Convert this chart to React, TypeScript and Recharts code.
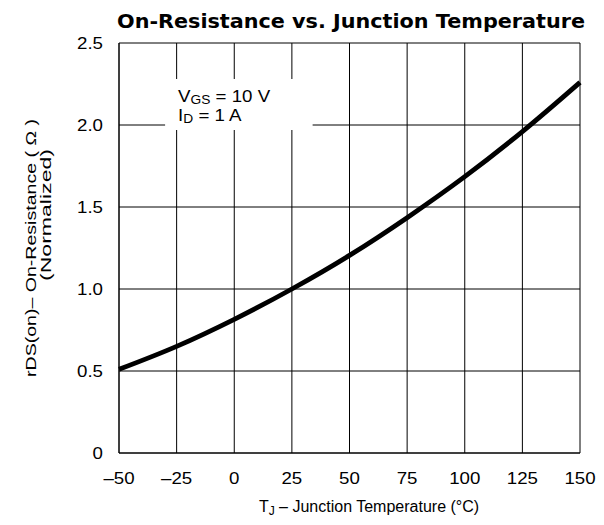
import React from "react";
import {
  LineChart,
  Line,
  XAxis,
  YAxis,
  CartesianGrid,
  ReferenceArea,
} from "recharts";

const temperatures = [-50, -25, 0, 25, 50, 75, 100, 125, 150];
const resistance = [0.51, 0.65, 0.815, 1.0, 1.205, 1.435, 1.685, 1.96, 2.26];
const xTicks = [-50, -25, 0, 25, 50, 75, 100, 125, 150];
const yTicks = [0, 0.5, 1.0, 1.5, 2.0, 2.5];

const data = temperatures.map((t, i) => ({ t, r: resistance[i] }));

const FONT = "'Liberation Sans', Arial, Helvetica, sans-serif";
const SX = 1.1;

const fmtX = (v: number) => (v < 0 ? "\u2013" + Math.abs(v) : String(v));
const fmtY = (v: number) => (v === 0 ? "0" : v.toFixed(1));

const XTick = (props: any) => {
  const { x, y, payload } = props;
  return (
    <g transform={`translate(${x},${y}) scale(${SX},1)`}>
      <text x={0} y={0} dy="0.71em" textAnchor="middle" fontFamily={FONT} fontSize={17} fill="#000">
        {fmtX(payload.value)}
      </text>
    </g>
  );
};

const YTick = (props: any) => {
  const { x, y, payload } = props;
  return (
    <g transform={`translate(${x},${y}) scale(${SX},1)`}>
      <text x={0} y={0} dy="0.355em" textAnchor="end" fontFamily={FONT} fontSize={17} fill="#000">
        {fmtY(payload.value)}
      </text>
    </g>
  );
};

const AnnotationLabel = (props: any) => {
  const vb = props.viewBox || {};
  const x = vb.x + 13;
  const y = vb.y + 23;
  return (
    <g fontFamily={FONT} fill="#000" transform={`translate(${x},${y}) scale(${SX},1)`}>
      <text x={0} y={0} fontSize={17}>
        V<tspan fontSize={12.5} dy={2}>GS</tspan>
        <tspan dy={-2}> = 10 V</tspan>
      </text>
      <text x={0} y={18.5} fontSize={17}>
        I<tspan fontSize={12.5} dy={2}>D</tspan>
        <tspan dy={-2}> = 1 A</tspan>
      </text>
    </g>
  );
};

const YLabel = () => (
  <g fontFamily={FONT} fontSize={15} fill="#000">
    <text
      x={30}
      y={248}
      textAnchor="middle"
      dominantBaseline="central"
      textLength={258}
      lengthAdjust="spacingAndGlyphs"
      transform="rotate(-90 30 248)"
    >
      rDS(on)– On-Resistance ( Ω )
    </text>
    <text
      x={45}
      y={215}
      textAnchor="middle"
      dominantBaseline="central"
      textLength={132}
      lengthAdjust="spacingAndGlyphs"
      transform="rotate(-90 45 215)"
    >
      (Normalized)
    </text>
  </g>
);

export default function App() {
  return (
    <div style={{ position: "absolute", left: 0, top: 0, width: 604, height: 525, background: "#fff" }}>
      <svg width={604} height={525} style={{ position: "absolute", left: 0, top: 0, pointerEvents: "none" }}>
        <text
          x={351}
          y={28}
          textAnchor="middle"
          fontFamily="'DejaVu Sans', sans-serif"
          fontWeight="bold"
          fontSize={19}
          textLength={468}
          lengthAdjust="spacingAndGlyphs"
          fill="#000"
        >
          On-Resistance vs. Junction Temperature
        </text>
        <YLabel />
        <text x={369} y={512} textAnchor="middle" fontFamily={FONT} fontSize={16} fill="#000">
          T<tspan fontSize={12} dy={3}>J</tspan>
          <tspan dy={-3}> – Junction Temperature (°C)</tspan>
        </text>
      </svg>
      <div style={{ position: "absolute", left: 0, top: 0 }}>
        <LineChart
          width={604}
          height={525}
          data={data}
          margin={{ top: 43, right: 24, bottom: 0, left: 0 }}
        >
          <CartesianGrid stroke="#000" strokeWidth={1} horizontalValues={yTicks} verticalValues={xTicks} />
          <XAxis
            dataKey="t"
            type="number"
            domain={[-50, 150]}
            ticks={xTicks}
            height={72}
            tickLine={false}
            axisLine={{ stroke: "#000" }}
            tickSize={0}
            tickMargin={19}
            tick={<XTick />}
            interval={0}
          />
          <YAxis
            type="number"
            domain={[0, 2.5]}
            ticks={yTicks}
            width={119}
            tickLine={false}
            axisLine={{ stroke: "#000" }}
            tickSize={0}
            tickMargin={16}
            tick={<YTick />}
            interval={0}
          />
          <ReferenceArea
            x1={-30}
            x2={34}
            y1={1.97}
            y2={2.28}
            fill="#fff"
            fillOpacity={1}
            stroke="none"
            ifOverflow="visible"
            label={<AnnotationLabel />}
          />
          <Line
            type="monotone"
            dataKey="r"
            stroke="#000"
            strokeWidth={4.8}
            dot={false}
            activeDot={false}
            isAnimationActive={false}
          />
        </LineChart>
      </div>
    </div>
  );
}
